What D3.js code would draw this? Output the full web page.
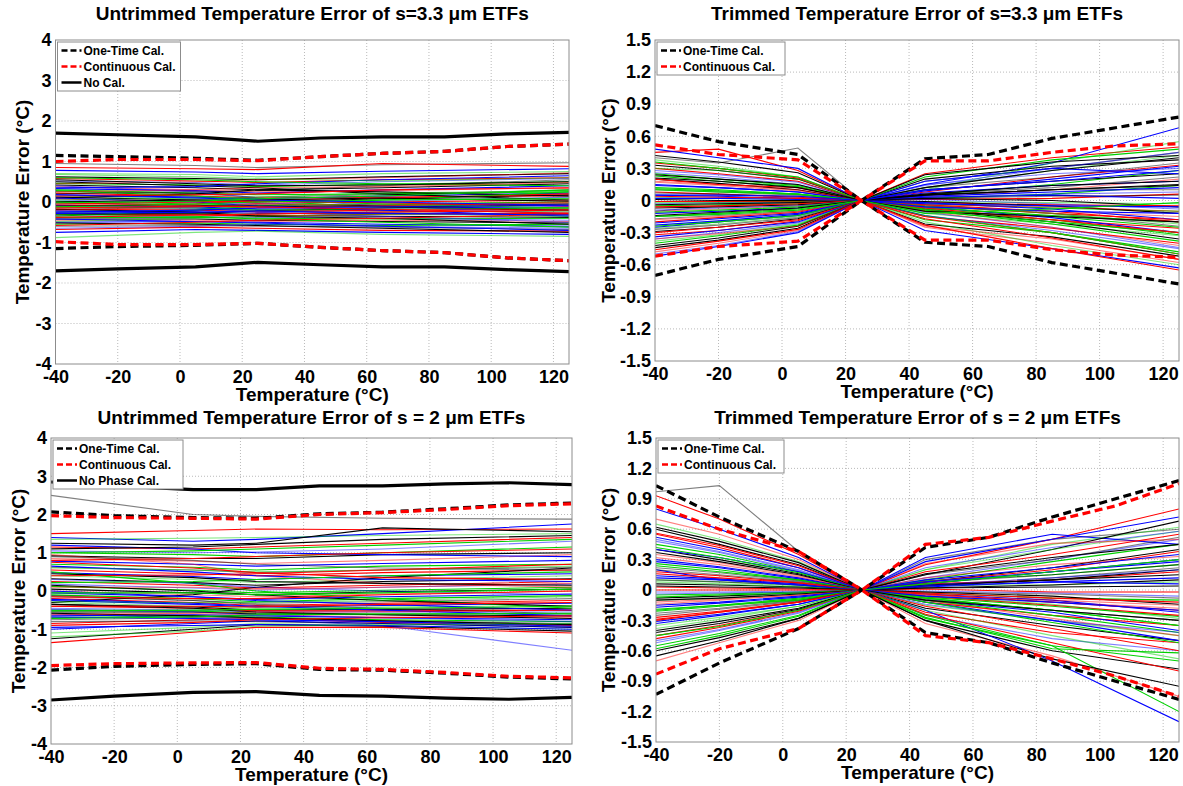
<!DOCTYPE html>
<html>
<head>
<meta charset="utf-8">
<script src="https://cdn.jsdelivr.net/npm/d3@7"></script>
<style>
  body { margin: 0; background: #fff; }
  svg { display: block; font-family: "Liberation Sans", Arial, Helvetica, sans-serif; font-weight: bold; }
</style>
</head>
<body>
<svg id="chart" width="1183" height="786"></svg>
<script>
// ---------- shared axes ----------
const xTicks = [-40, -20, 0, 20, 40, 60, 80, 100, 120];
const yTicksUntrimmed = [-4, -3, -2, -1, 0, 1, 2, 3, 4];
const yTicksTrimmed = [-1.5, -1.2, -0.9, -0.6, -0.3, 0, 0.3, 0.6, 0.9, 1.2, 1.5];

// temperatures of the bound curves
const boundTemps = [-40, -20, 5, 25, 45, 65, 85, 105, 125];
// temperatures of the individual device curves
const deviceTempsUntrimmed = [-40, 5, 25, 65, 125];
const deviceTempsTrimmed = [-40, -20, 5, 25, 45, 85, 125];

// ---------- s = 3.3 um, untrimmed ----------
const noCalUp33 = [1.70, 1.66, 1.61, 1.50, 1.58, 1.61, 1.61, 1.68, 1.72];
const noCalLo33 = [-1.70, -1.65, -1.60, -1.49, -1.55, -1.60, -1.60, -1.67, -1.72];
const oneTimeUp33 = [1.15, 1.12, 1.08, 1.03, 1.12, 1.20, 1.25, 1.37, 1.43];
const oneTimeLo33 = [-1.15, -1.10, -1.07, -1.02, -1.12, -1.20, -1.25, -1.38, -1.45];
const contUp33 = [1.00, 1.05, 1.05, 1.02, 1.12, 1.20, 1.25, 1.37, 1.43];
const contLo33 = [-0.98, -1.05, -1.05, -1.02, -1.12, -1.20, -1.25, -1.38, -1.45];

const devices33 = [
  [0.95, 0.90, 0.85, 0.92, 0.97], [0.85, 0.82, 0.80, 0.95, 0.88], [0.78, 0.74, 0.70, 0.76, 0.82],
  [0.70, 0.68, 0.62, 0.70, 0.75], [0.62, 0.58, 0.55, 0.62, 0.70], [0.58, 0.52, 0.48, 0.55, 0.60],
  [0.52, 0.48, 0.42, 0.50, 0.58], [0.46, 0.42, 0.38, 0.44, 0.50], [0.42, 0.35, 0.30, 0.35, 0.45],
  [0.38, 0.30, 0.25, 0.28, 0.35], [0.33, 0.28, 0.22, 0.30, 0.40], [0.30, 0.22, 0.18, 0.20, 0.25],
  [0.26, 0.20, 0.12, 0.18, 0.30], [0.22, 0.15, 0.10, 0.12, 0.15], [0.18, 0.12, 0.08, 0.15, 0.22],
  [0.15, 0.08, 0.02, 0.05, 0.10], [0.12, 0.05, 0.00, 0.08, 0.18], [0.08, 0.02, -0.03, 0.00, 0.05],
  [0.05, -0.02, -0.05, 0.02, 0.12], [0.02, -0.05, -0.08, -0.05, 0.00], [-0.02, -0.08, -0.12, -0.08, -0.05],
  [-0.05, -0.10, -0.15, -0.10, -0.02], [-0.08, -0.12, -0.18, -0.15, -0.12], [-0.12, -0.15, -0.20, -0.18, -0.15],
  [-0.15, -0.18, -0.22, -0.22, -0.25], [-0.18, -0.20, -0.25, -0.20, -0.18], [-0.22, -0.25, -0.28, -0.28, -0.30],
  [-0.25, -0.28, -0.30, -0.25, -0.22], [-0.28, -0.30, -0.33, -0.35, -0.38], [-0.30, -0.32, -0.35, -0.30, -0.28],
  [-0.34, -0.36, -0.38, -0.40, -0.45], [-0.38, -0.38, -0.40, -0.42, -0.40], [-0.42, -0.42, -0.45, -0.48, -0.52],
  [-0.45, -0.45, -0.48, -0.45, -0.48], [-0.50, -0.48, -0.50, -0.55, -0.60], [-0.55, -0.52, -0.55, -0.58, -0.55],
  [-0.60, -0.58, -0.60, -0.62, -0.68], [-0.68, -0.62, -0.65, -0.70, -0.72], [-0.75, -0.68, -0.70, -0.75, -0.80],
  [-0.88, -0.75, -0.72, -0.80, -0.85], [0.10, 0.20, 0.30, 0.25, 0.15], [-0.10, -0.05, 0.05, 0.10, 0.20],
  [0.40, 0.25, 0.10, -0.10, -0.30], [-0.35, -0.20, -0.10, 0.05, 0.25],
  [0.50, 0.40, 0.35, 0.20, 0.05], [0.45, 0.50, 0.55, 0.60, 0.72], [0.35, 0.38, 0.45, 0.55, 0.65],
  [0.28, 0.15, 0.05, -0.05, -0.15], [0.20, 0.25, 0.28, 0.40, 0.55], [0.15, 0.18, 0.20, 0.30, 0.35],
  [0.10, 0.00, -0.10, -0.20, -0.35], [0.05, 0.10, 0.12, 0.22, 0.28], [0.00, 0.05, 0.05, 0.10, 0.02],
  [-0.05, 0.00, 0.02, -0.02, -0.10], [-0.10, -0.15, -0.25, -0.35, -0.50], [-0.12, -0.05, 0.00, 0.05, 0.08],
  [-0.18, -0.25, -0.35, -0.40, -0.55], [-0.20, -0.12, -0.05, -0.08, 0.00], [-0.25, -0.20, -0.15, -0.12, -0.08],
  [-0.30, -0.35, -0.42, -0.50, -0.62], [-0.32, -0.28, -0.22, -0.15, -0.05], [-0.38, -0.32, -0.30, -0.25, -0.20],
  [-0.42, -0.48, -0.52, -0.60, -0.70], [-0.48, -0.40, -0.35, -0.30, -0.35], [-0.52, -0.55, -0.58, -0.65, -0.75],
  [-0.58, -0.50, -0.45, -0.40, -0.30], [-0.65, -0.60, -0.55, -0.60, -0.65], [0.60, 0.55, 0.50, 0.45, 0.40],
  [0.55, 0.45, 0.40, 0.42, 0.50], [0.25, 0.30, 0.35, 0.38, 0.48], [0.18, 0.10, 0.05, 0.00, -0.08],
  [-0.02, 0.02, 0.08, 0.15, 0.30], [-0.08, -0.10, -0.08, -0.12, -0.20], [-0.15, -0.10, -0.12, -0.18, -0.28],
  [-0.28, -0.25, -0.22, -0.28, -0.32], [0.68, 0.62, 0.58, 0.52, 0.60]
];

// ---------- s = 3.3 um, trimmed ----------
const oneTimeUpT33 = [0.70, 0.55, 0.43, 0, 0.39, 0.43, 0.58, 0.68, 0.78];
const oneTimeLoT33 = [-0.70, -0.55, -0.43, 0, -0.39, -0.43, -0.58, -0.68, -0.78];
const contUpT33 = [0.52, 0.43, 0.38, 0, 0.37, 0.37, 0.45, 0.51, 0.53];
const contLoT33 = [-0.52, -0.43, -0.38, 0, -0.37, -0.37, -0.46, -0.51, -0.53];

const devicesT33 = [
  [0.40, 0.35, 0.49, 0, 0.18, 0.30, 0.45], [0.45, 0.48, 0.28, 0, 0.25, 0.40, 0.50], [0.48, 0.40, 0.30, 0, 0.15, 0.35, 0.68],
  [0.38, 0.32, 0.22, 0, 0.12, 0.28, 0.42], [0.33, 0.28, 0.20, 0, 0.20, 0.32, 0.38], [0.30, 0.25, 0.18, 0, 0.08, 0.22, 0.33],
  [0.26, 0.22, 0.15, 0, 0.15, 0.25, 0.30], [0.23, 0.18, 0.13, 0, 0.05, 0.15, 0.28], [0.20, 0.16, 0.10, 0, 0.10, 0.18, 0.25],
  [0.17, 0.14, 0.09, 0, 0.03, 0.10, 0.20], [0.15, 0.12, 0.08, 0, 0.07, 0.14, 0.18], [0.12, 0.10, 0.06, 0, 0.02, 0.06, 0.14],
  [0.10, 0.08, 0.05, 0, 0.05, 0.10, 0.10], [0.08, 0.06, 0.03, 0, 0.01, 0.02, 0.06], [0.05, 0.04, 0.02, 0, 0.03, 0.05, 0.02],
  [0.03, 0.02, 0.01, 0, -0.01, -0.02, -0.03], [0.01, 0.00, 0.00, 0, 0.02, 0.00, -0.06], [-0.01, -0.01, -0.01, 0, -0.02, -0.04, -0.05],
  [-0.03, -0.02, -0.02, 0, 0.01, -0.03, -0.08], [-0.05, -0.04, -0.03, 0, -0.03, -0.07, -0.10], [-0.07, -0.06, -0.04, 0, -0.01, -0.05, -0.12],
  [-0.10, -0.08, -0.05, 0, -0.05, -0.10, -0.15], [-0.12, -0.10, -0.07, 0, -0.02, -0.08, -0.18], [-0.15, -0.12, -0.08, 0, -0.07, -0.14, -0.20],
  [-0.17, -0.14, -0.10, 0, -0.04, -0.12, -0.24], [-0.20, -0.16, -0.11, 0, -0.09, -0.18, -0.26], [-0.23, -0.19, -0.13, 0, -0.06, -0.16, -0.30],
  [-0.26, -0.22, -0.15, 0, -0.12, -0.22, -0.33], [-0.29, -0.25, -0.17, 0, -0.08, -0.20, -0.36], [-0.32, -0.28, -0.19, 0, -0.15, -0.26, -0.40],
  [-0.36, -0.30, -0.21, 0, -0.11, -0.25, -0.44], [-0.40, -0.33, -0.23, 0, -0.18, -0.30, -0.48], [-0.44, -0.37, -0.26, 0, -0.22, -0.34, -0.52],
  [-0.48, -0.40, -0.28, 0, -0.25, -0.40, -0.58], [-0.52, -0.43, -0.30, 0, -0.28, -0.45, -0.63], [0.10, 0.08, 0.06, 0, -0.10, -0.20, -0.30],
  [-0.10, -0.05, -0.04, 0, 0.12, 0.22, 0.35], [0.20, 0.15, 0.12, 0, -0.15, -0.30, -0.50], [-0.25, -0.20, -0.14, 0, 0.18, 0.30, 0.25],
  [0.30, 0.28, 0.20, 0, 0.10, 0.35, 0.55],
  [0.42, 0.36, 0.26, 0, 0.05, 0.10, 0.15], [0.35, 0.30, 0.21, 0, -0.05, -0.12, -0.18], [0.28, 0.24, 0.17, 0, 0.14, 0.30, 0.45],
  [0.25, 0.20, 0.14, 0, -0.08, -0.18, -0.32], [0.21, 0.18, 0.12, 0, 0.12, 0.28, 0.40], [0.18, 0.15, 0.10, 0, -0.04, -0.06, -0.10],
  [0.14, 0.12, 0.08, 0, 0.09, 0.20, 0.32], [0.11, 0.09, 0.06, 0, -0.06, -0.15, -0.25], [0.07, 0.06, 0.04, 0, 0.06, 0.12, 0.22],
  [0.04, 0.03, 0.02, 0, -0.04, -0.10, -0.20], [0.02, 0.02, 0.01, 0, 0.04, 0.08, 0.12], [-0.02, -0.02, -0.01, 0, -0.05, -0.12, -0.22],
  [-0.04, -0.03, -0.02, 0, 0.06, 0.14, 0.18], [-0.06, -0.05, -0.03, 0, -0.07, -0.18, -0.30], [-0.09, -0.07, -0.05, 0, 0.03, 0.06, 0.08],
  [-0.11, -0.09, -0.06, 0, -0.09, -0.22, -0.38], [-0.14, -0.11, -0.07, 0, 0.05, 0.10, 0.14], [-0.18, -0.15, -0.10, 0, -0.10, -0.25, -0.42],
  [-0.21, -0.17, -0.12, 0, -0.03, -0.05, -0.06], [-0.24, -0.20, -0.14, 0, -0.14, -0.30, -0.50], [-0.27, -0.23, -0.16, 0, 0.02, 0.04, 0.05],
  [-0.30, -0.25, -0.18, 0, -0.17, -0.35, -0.55], [-0.34, -0.28, -0.20, 0, -0.06, -0.10, -0.12], [-0.38, -0.32, -0.22, 0, -0.20, -0.42, -0.60],
  [-0.42, -0.35, -0.24, 0, -0.10, -0.15, -0.20], [-0.46, -0.38, -0.27, 0, -0.23, -0.45, -0.65], [-0.50, -0.42, -0.29, 0, -0.14, -0.28, -0.45],
  [0.36, 0.30, 0.22, 0, 0.22, 0.38, 0.48], [0.24, 0.20, 0.15, 0, 0.24, 0.36, 0.42], [-0.36, -0.31, -0.24, 0, -0.24, -0.36, -0.55],
  [0.05, 0.05, 0.04, 0, 0.10, 0.18, 0.28], [-0.15, -0.13, -0.09, 0, -0.12, -0.08, -0.02]
];

// ---------- s = 2 um, untrimmed ----------
const noCalUp2 = [2.85, 2.75, 2.65, 2.65, 2.75, 2.75, 2.80, 2.83, 2.78];
const noCalLo2 = [-2.85, -2.75, -2.65, -2.63, -2.73, -2.75, -2.80, -2.83, -2.78];
const oneTimeUp2 = [2.07, 1.97, 1.92, 1.90, 2.02, 2.06, 2.15, 2.25, 2.30];
const oneTimeLo2 = [-2.07, -1.97, -1.92, -1.90, -2.05, -2.07, -2.15, -2.25, -2.30];
const contUp2 = [1.97, 1.92, 1.90, 1.88, 2.00, 2.05, 2.13, 2.23, 2.28];
const contLo2 = [-1.95, -1.90, -1.88, -1.87, -2.02, -2.05, -2.13, -2.23, -2.27];

const devices2 = [
  [2.50, 2.00, 1.95, 1.90, 1.88], [1.50, 1.58, 1.62, 1.60, 1.62], [1.40, 1.30, 1.35, 1.50, 1.75],
  [1.35, 1.38, 1.40, 1.45, 1.50], [1.25, 1.20, 1.25, 1.65, 1.55], [1.15, 1.10, 1.15, 1.25, 1.40],
  [1.05, 1.00, 1.02, 1.10, 1.30], [1.00, 0.95, 0.90, 1.00, 1.15], [0.92, 0.85, 0.85, 0.95, 1.00],
  [0.85, 0.78, 0.72, 0.80, 0.95], [0.78, 0.70, 0.65, 0.72, 0.80], [0.70, 0.62, 0.55, 0.65, 0.70],
  [0.62, 0.55, 0.48, 0.55, 0.62], [0.55, 0.45, 0.40, 0.48, 0.55], [0.48, 0.38, 0.30, 0.40, 0.45],
  [0.40, 0.30, 0.22, 0.30, 0.40], [0.32, 0.22, 0.15, 0.25, 0.32], [0.25, 0.15, 0.08, 0.15, 0.25],
  [0.18, 0.08, 0.02, 0.10, 0.18], [0.12, 0.02, -0.05, 0.02, 0.10], [0.05, -0.05, -0.10, -0.02, 0.05],
  [0.00, -0.10, -0.15, -0.08, 0.00], [-0.05, -0.15, -0.22, -0.15, -0.08], [-0.10, -0.20, -0.28, -0.20, -0.12],
  [-0.15, -0.25, -0.32, -0.28, -0.20], [-0.20, -0.30, -0.38, -0.32, -0.25], [-0.25, -0.35, -0.42, -0.38, -0.32],
  [-0.30, -0.40, -0.45, -0.42, -0.38], [-0.35, -0.42, -0.50, -0.48, -0.45], [-0.40, -0.45, -0.52, -0.52, -0.50],
  [-0.45, -0.50, -0.55, -0.55, -0.55], [-0.50, -0.52, -0.58, -0.60, -0.60], [-0.55, -0.55, -0.60, -0.62, -0.65],
  [-0.60, -0.60, -0.62, -0.68, -0.70], [-0.65, -0.62, -0.65, -0.70, -0.75], [-0.70, -0.65, -0.68, -0.75, -0.80],
  [-0.75, -0.70, -0.70, -0.78, -0.85], [-0.85, -0.75, -0.72, -0.82, -0.90], [-1.00, -0.85, -0.78, -0.85, -0.95],
  [-1.10, -0.95, -0.85, -0.90, -1.00], [-1.25, -1.00, -0.88, -0.92, -1.05], [-1.35, -1.08, -0.95, -0.95, -1.10],
  [-0.60, -0.70, -0.75, -0.90, -1.55], [0.50, 0.20, 0.00, -0.20, -0.45], [-0.30, -0.10, 0.10, 0.35, 0.60],
  [0.95, 0.70, 0.40, 0.20, 0.10],
  [1.20, 1.10, 1.00, 0.95, 0.90], [1.00, 1.05, 1.10, 1.20, 1.35], [0.90, 0.80, 0.70, 0.60, 0.55],
  [0.80, 0.85, 0.90, 1.00, 1.10], [0.65, 0.50, 0.40, 0.30, 0.25], [0.60, 0.55, 0.50, 0.55, 0.65],
  [0.45, 0.35, 0.25, 0.20, 0.15], [0.40, 0.42, 0.45, 0.55, 0.70], [0.30, 0.20, 0.10, 0.00, -0.10],
  [0.22, 0.25, 0.30, 0.40, 0.50], [0.15, 0.00, -0.10, -0.25, -0.40], [0.10, 0.10, 0.05, 0.10, 0.20],
  [0.00, -0.15, -0.25, -0.35, -0.50], [-0.05, -0.05, -0.10, -0.05, 0.05], [-0.12, -0.25, -0.35, -0.45, -0.60],
  [-0.15, -0.20, -0.20, -0.10, 0.00], [-0.22, -0.32, -0.40, -0.50, -0.65], [-0.28, -0.30, -0.30, -0.25, -0.15],
  [-0.35, -0.45, -0.55, -0.62, -0.72], [-0.40, -0.40, -0.42, -0.35, -0.30], [-0.48, -0.55, -0.62, -0.70, -0.80],
  [-0.52, -0.50, -0.48, -0.45, -0.40], [-0.58, -0.65, -0.70, -0.78, -0.88], [-0.62, -0.58, -0.55, -0.55, -0.50],
  [-0.68, -0.72, -0.75, -0.80, -0.92], [-0.72, -0.68, -0.62, -0.60, -0.58], [-0.80, -0.78, -0.80, -0.85, -0.95],
  [-0.90, -0.82, -0.75, -0.70, -0.65], [-0.95, -0.90, -0.88, -0.90, -1.00], [-1.20, -1.05, -0.92, -0.88, -0.85],
  [1.10, 1.15, 1.22, 1.35, 1.45], [0.75, 0.60, 0.48, 0.35, 0.30]
];

// ---------- s = 2 um, trimmed ----------
const oneTimeUpT2 = [1.03, 0.72, 0.38, 0, 0.42, 0.52, 0.72, 0.90, 1.08];
const oneTimeLoT2 = [-1.03, -0.72, -0.38, 0, -0.42, -0.52, -0.72, -0.90, -1.08];
const contUpT2 = [0.83, 0.60, 0.38, 0, 0.45, 0.52, 0.68, 0.83, 1.05];
const contLoT2 = [-0.83, -0.58, -0.38, 0, -0.45, -0.52, -0.68, -0.85, -1.05];

const devicesT2 = [
  [0.97, 1.03, 0.38, 0, 0.30, 0.50, 0.60], [0.93, 0.70, 0.35, 0, 0.25, 0.50, 0.80], [0.80, 0.60, 0.32, 0, 0.32, 0.55, 0.45],
  [0.65, 0.50, 0.28, 0, 0.20, 0.45, 0.62], [0.60, 0.45, 0.25, 0, 0.15, 0.40, 0.68], [0.55, 0.42, 0.22, 0, 0.18, 0.35, 0.55],
  [0.50, 0.38, 0.20, 0, 0.12, 0.30, 0.50], [0.45, 0.35, 0.18, 0, 0.10, 0.28, 0.45], [0.40, 0.30, 0.16, 0, 0.08, 0.22, 0.40],
  [0.35, 0.27, 0.14, 0, 0.12, 0.25, 0.33], [0.30, 0.23, 0.12, 0, 0.06, 0.18, 0.30], [0.26, 0.20, 0.10, 0, 0.09, 0.15, 0.25],
  [0.22, 0.17, 0.09, 0, 0.04, 0.12, 0.22], [0.18, 0.14, 0.07, 0, 0.06, 0.10, 0.18], [0.14, 0.11, 0.06, 0, 0.03, 0.08, 0.12],
  [0.10, 0.08, 0.04, 0, 0.05, 0.05, 0.08], [0.06, 0.05, 0.03, 0, 0.02, 0.03, 0.04], [0.03, 0.02, 0.01, 0, 0.01, -0.02, -0.02],
  [-0.02, -0.02, -0.01, 0, -0.01, -0.03, -0.06], [-0.05, -0.04, -0.02, 0, -0.03, -0.08, -0.10], [-0.08, -0.06, -0.03, 0, -0.02, -0.06, -0.14],
  [-0.12, -0.09, -0.05, 0, -0.05, -0.12, -0.18], [-0.15, -0.12, -0.06, 0, -0.04, -0.10, -0.22], [-0.19, -0.15, -0.08, 0, -0.07, -0.16, -0.26],
  [-0.23, -0.18, -0.10, 0, -0.09, -0.20, -0.30], [-0.27, -0.21, -0.12, 0, -0.12, -0.25, -0.35], [-0.31, -0.24, -0.14, 0, -0.10, -0.22, -0.40],
  [-0.35, -0.27, -0.16, 0, -0.15, -0.30, -0.45], [-0.40, -0.31, -0.18, 0, -0.18, -0.35, -0.50], [-0.45, -0.35, -0.20, 0, -0.22, -0.42, -0.52],
  [-0.50, -0.39, -0.22, 0, -0.25, -0.48, -0.60], [-0.55, -0.43, -0.25, 0, -0.28, -0.55, -0.70], [-0.60, -0.47, -0.28, 0, -0.30, -0.60, -0.78],
  [-0.70, -0.52, -0.30, 0, -0.33, -0.65, -1.05], [0.20, 0.10, 0.05, 0, -0.20, -0.70, -1.30], [-0.20, -0.15, -0.10, 0, -0.25, -0.55, -1.20],
  [0.10, 0.08, 0.05, 0, 0.15, 0.30, 0.52], [-0.30, -0.22, -0.12, 0, 0.08, 0.20, 0.38], [0.40, 0.32, 0.18, 0, -0.12, -0.30, -0.50],
  [-0.10, -0.08, -0.04, 0, 0.20, 0.40, 0.58],
  [0.62, 0.48, 0.27, 0, 0.05, 0.10, 0.20], [0.56, 0.44, 0.24, 0, -0.06, -0.15, -0.25], [0.48, 0.37, 0.19, 0, 0.22, 0.42, 0.58],
  [0.42, 0.32, 0.17, 0, -0.08, -0.20, -0.35], [0.37, 0.28, 0.15, 0, 0.16, 0.32, 0.45], [0.32, 0.25, 0.13, 0, -0.05, -0.10, -0.15],
  [0.28, 0.22, 0.11, 0, 0.10, 0.22, 0.35], [0.24, 0.18, 0.10, 0, -0.10, -0.25, -0.42], [0.20, 0.15, 0.08, 0, 0.07, 0.15, 0.25],
  [0.16, 0.12, 0.07, 0, -0.04, -0.12, -0.20], [0.12, 0.10, 0.05, 0, 0.08, 0.18, 0.28], [0.08, 0.06, 0.03, 0, -0.06, -0.14, -0.28],
  [0.04, 0.03, 0.02, 0, 0.04, 0.10, 0.15], [0.00, 0.00, 0.00, 0, -0.03, -0.08, -0.12], [-0.04, -0.03, -0.02, 0, 0.05, 0.12, 0.20],
  [-0.07, -0.05, -0.03, 0, -0.08, -0.20, -0.35], [-0.10, -0.08, -0.04, 0, 0.02, 0.05, 0.10], [-0.14, -0.10, -0.05, 0, -0.10, -0.28, -0.45],
  [-0.17, -0.13, -0.07, 0, 0.04, 0.08, 0.06], [-0.21, -0.16, -0.09, 0, -0.12, -0.32, -0.52], [-0.25, -0.19, -0.11, 0, -0.02, -0.04, -0.08],
  [-0.29, -0.22, -0.12, 0, -0.16, -0.38, -0.60], [-0.33, -0.25, -0.14, 0, -0.06, -0.12, -0.20], [-0.38, -0.29, -0.16, 0, -0.20, -0.45, -0.68],
  [-0.42, -0.33, -0.19, 0, -0.10, -0.20, -0.30], [-0.48, -0.37, -0.21, 0, -0.24, -0.52, -0.80], [-0.52, -0.40, -0.23, 0, -0.14, -0.30, -0.42],
  [-0.58, -0.45, -0.26, 0, -0.27, -0.58, -0.62], [-0.65, -0.50, -0.28, 0, -0.30, -0.68, -0.95], [0.70, 0.55, 0.30, 0, 0.26, 0.46, 0.50],
  [0.52, 0.40, 0.22, 0, 0.28, 0.50, 0.72], [-0.45, -0.36, -0.20, 0, 0.06, 0.18, 0.30]
];

// ---------- styles ----------
const deviceColors = ["#000000", "#ff0000", "#0000ff", "#00d000"];
const oneTimeStyle = { stroke: "#000", width: 3.2, dash: "8,4.5" };
const contStyle = { stroke: "#ff0000", width: 3.2, dash: "8,4.5" };
const noCalStyle = { stroke: "#000", width: 3.2, dash: null };

const panels = [
  {
    box: { x0: 55.5, x1: 569, y0: 40, y1: 364 }, titleY: 20, yTitleX: 28.5,
    title: "Untrimmed Temperature Error of s=3.3 \u03bcm ETFs",
    yDomain: [-4, 4], yTicks: yTicksUntrimmed,
    devices: devices33, deviceTemps: deviceTempsUntrimmed,
    bounds: [
      [oneTimeUp33, oneTimeStyle], [oneTimeLo33, oneTimeStyle],
      [contUp33, contStyle], [contLo33, contStyle],
      [noCalUp33, noCalStyle], [noCalLo33, noCalStyle]
    ],
    legend: [["One-Time Cal.", oneTimeStyle], ["Continuous Cal.", contStyle], ["No Cal.", noCalStyle]],
    legendWidth: 123
  },
  {
    box: { x0: 655, x1: 1179, y0: 40, y1: 361 }, titleY: 20, yTitleX: 615,
    title: "Trimmed Temperature Error of s=3.3 \u03bcm ETFs",
    yDomain: [-1.5, 1.5], yTicks: yTicksTrimmed,
    devices: devicesT33, deviceTemps: deviceTempsTrimmed,
    bounds: [
      [oneTimeUpT33, oneTimeStyle], [oneTimeLoT33, oneTimeStyle],
      [contUpT33, contStyle], [contLoT33, contStyle]
    ],
    legend: [["One-Time Cal.", oneTimeStyle], ["Continuous Cal.", contStyle]],
    legendWidth: 128
  },
  {
    box: { x0: 51, x1: 572, y0: 438, y1: 744 }, titleY: 424, yTitleX: 25,
    title: "Untrimmed Temperature Error of s = 2 \u03bcm ETFs",
    yDomain: [-4, 4], yTicks: yTicksUntrimmed,
    devices: devices2, deviceTemps: deviceTempsUntrimmed,
    bounds: [
      [oneTimeUp2, oneTimeStyle], [oneTimeLo2, oneTimeStyle],
      [contUp2, contStyle], [contLo2, contStyle],
      [noCalUp2, noCalStyle], [noCalLo2, noCalStyle]
    ],
    legend: [["One-Time Cal.", oneTimeStyle], ["Continuous Cal.", contStyle], ["No Phase Cal.", noCalStyle]],
    legendWidth: 130
  },
  {
    box: { x0: 656, x1: 1179, y0: 438, y1: 742 }, titleY: 424, yTitleX: 615,
    title: "Trimmed Temperature Error of s = 2 \u03bcm ETFs",
    yDomain: [-1.5, 1.5], yTicks: yTicksTrimmed,
    devices: devicesT2, deviceTemps: deviceTempsTrimmed,
    bounds: [
      [oneTimeUpT2, oneTimeStyle], [oneTimeLoT2, oneTimeStyle],
      [contUpT2, contStyle], [contLoT2, contStyle]
    ],
    legend: [["One-Time Cal.", oneTimeStyle], ["Continuous Cal.", contStyle]],
    legendWidth: 126
  }
];

const svg = d3.select("#chart");
const fmtTick = v => (v === 0 ? "0" : (Number.isInteger(v) ? String(v) : v.toFixed(1)));
const fontStack = "Liberation Sans, Arial, sans-serif";

panels.forEach((p, idx) => {
  const b = p.box;
  const x = d3.scaleLinear().domain([-40, 125]).range([b.x0, b.x1]);
  const y = d3.scaleLinear().domain(p.yDomain).range([b.y1, b.y0]);
  const g = svg.append("g");

  const clipId = "clip" + idx;
  g.append("clipPath").attr("id", clipId)
    .append("rect").attr("x", b.x0).attr("y", b.y0)
    .attr("width", b.x1 - b.x0).attr("height", b.y1 - b.y0);

  g.append("rect").attr("x", b.x0).attr("y", b.y0)
    .attr("width", b.x1 - b.x0).attr("height", b.y1 - b.y0).attr("fill", "#fff");

  // dotted grid
  const grid = g.append("g").attr("stroke", "#a8a8a8").attr("stroke-width", 0.8)
    .attr("stroke-dasharray", "1,2");
  grid.selectAll("line.gx").data(xTicks.filter(t => t > -40)).join("line")
    .attr("x1", d => x(d)).attr("x2", d => x(d)).attr("y1", b.y0).attr("y2", b.y1);
  grid.selectAll("line.gy").data(p.yTicks.filter(t => t > p.yDomain[0] && t < p.yDomain[1])).join("line")
    .attr("x1", b.x0).attr("x2", b.x1).attr("y1", d => y(d)).attr("y2", d => y(d));

  const plot = g.append("g").attr("clip-path", `url(#${clipId})`);

  // individual device curves
  const devLine = d3.line().x((d, i) => x(p.deviceTemps[i])).y(d => y(d));
  plot.selectAll("path.dev").data(p.devices).join("path")
    .attr("d", devLine)
    .attr("fill", "none")
    .attr("stroke", (d, i) => deviceColors[i % 4])
    .attr("stroke-opacity", (d, i) => (i % 3 === 0 ? 0.5 : 1))
    .attr("stroke-width", 1.1);

  // worst-case bounds
  const boundLine = d3.line().x((d, i) => x(boundTemps[i])).y(d => y(d));
  p.bounds.forEach(([vals, st]) => {
    plot.append("path").attr("d", boundLine(vals))
      .attr("fill", "none").attr("stroke", st.stroke).attr("stroke-width", st.width)
      .attr("stroke-dasharray", st.dash);
  });

  // axes box
  g.append("rect").attr("x", b.x0).attr("y", b.y0)
    .attr("width", b.x1 - b.x0).attr("height", b.y1 - b.y0)
    .attr("fill", "none").attr("stroke", "#8c8c8c").attr("stroke-width", 1);

  const xAxis = d3.axisBottom(x).tickValues(xTicks).tickSize(0).tickPadding(6).tickFormat(fmtTick);
  const xa = g.append("g").attr("transform", `translate(0,${b.y1})`).call(xAxis);
  xa.select(".domain").remove();
  xa.selectAll("text").attr("font-size", 18).attr("font-weight", "bold")
    .attr("font-family", fontStack).attr("fill", "#000");

  const yAxis = d3.axisLeft(y).tickValues(p.yTicks).tickSize(0).tickPadding(4).tickFormat(fmtTick);
  const ya = g.append("g").attr("transform", `translate(${b.x0},0)`).call(yAxis);
  ya.select(".domain").remove();
  ya.selectAll("text").attr("font-size", 18).attr("font-weight", "bold")
    .attr("font-family", fontStack).attr("fill", "#000");

  // titles
  const cx = (b.x0 + b.x1) / 2;
  g.append("text").attr("x", cx).attr("y", p.titleY).attr("text-anchor", "middle")
    .attr("font-size", 19).text(p.title);
  g.append("text").attr("x", cx).attr("y", b.y1 + 37).attr("text-anchor", "middle")
    .attr("font-size", 19).text("Temperature (\u00b0C)");
  const cy = (b.y0 + b.y1) / 2;
  g.append("text").attr("transform", `translate(${p.yTitleX},${cy}) rotate(-90)`)
    .attr("text-anchor", "middle").attr("font-size", 19).text("Temperature Error (\u00b0C)");

  // legend
  const lg = g.append("g").attr("transform", `translate(${b.x0 + 2},${b.y0 + 2})`);
  const rowH = 16;
  lg.append("rect").attr("width", p.legendWidth).attr("height", p.legend.length * rowH + 1)
    .attr("fill", "#fff").attr("stroke", "#8c8c8c").attr("stroke-width", 1);
  p.legend.forEach(([label, st], i) => {
    const ry = 8.5 + i * rowH;
    lg.append("line").attr("x1", 4).attr("x2", 24).attr("y1", ry).attr("y2", ry)
      .attr("stroke", st.stroke).attr("stroke-width", 2.5).attr("stroke-dasharray", st.dash ? "6,3" : null);
    lg.append("text").attr("x", 26).attr("y", ry + 4.5).attr("font-size", 12).text(label);
  });
});
</script>
</body>
</html>
